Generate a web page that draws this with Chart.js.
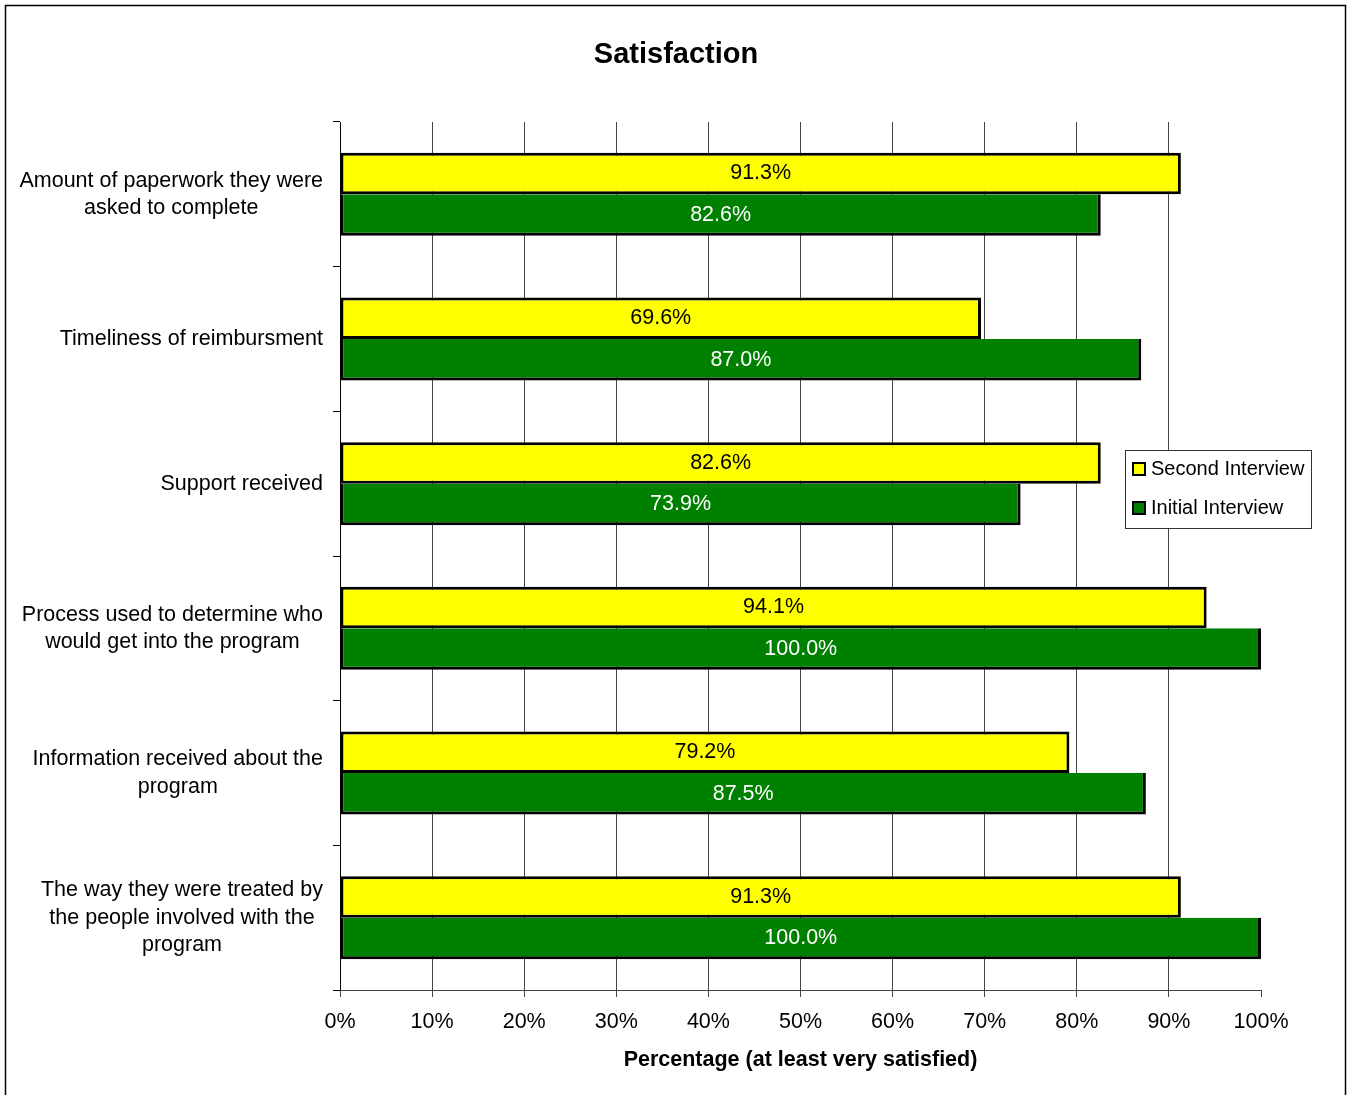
<!DOCTYPE html>
<html>
<head>
<meta charset="utf-8">
<script src="https://cdn.jsdelivr.net/npm/chart.js@4/dist/chart.umd.min.js"></script>
<style>
  html, body { margin: 0; padding: 0; background: #fff; }
  canvas { display: block; }
</style>
</head>
<body>
<canvas id="satisfactionChart" width="1351" height="1095"></canvas>
<script>
// Survey items, each split into the lines it is printed on
const categories = [
    ["Amount of paperwork they were", "asked to complete"],
    ["Timeliness of reimbursment"],
    ["Support received"],
    ["Process used to determine who", "would get into the program"],
    ["Information received about the", "program"],
    ["The way they were treated by", "the people involved with the", "program"]
];
const secondInterview = [91.3, 69.6, 82.6, 94.1, 79.2, 91.3];
const initialInterview = [82.6, 87.0, 73.9, 100.0, 87.5, 100.0];
const seriesNames = ["Second Interview", "Initial Interview"];
const xTicks = [0, 10, 20, 30, 40, 50, 60, 70, 80, 90, 100];

const FONT = "'Liberation Sans', Arial, sans-serif";

// outer frame, title, wrapped category names, value labels and the boxed legend
const decorations = {
    id: 'decorations',
    beforeDraw(chart) {
        const c = chart.ctx;
        c.save();
        c.fillStyle = '#fff';
        c.fillRect(0, 0, chart.width, chart.height);
        c.strokeStyle = '#000';
        c.lineWidth = 1.5;
        c.strokeRect(5.5, 5.5, 1340, 1100);

        c.fillStyle = '#000';
        c.font = 'bold 29px ' + FONT;
        c.textAlign = 'center';
        c.textBaseline = 'middle';
        c.fillText('Satisfaction', 676, 55);
        c.restore();
    },
    afterDatasetsDraw(chart) {
        const c = chart.ctx;
        c.save();
        c.font = '21.5px ' + FONT;
        c.textAlign = 'center';
        c.textBaseline = 'middle';
        chart.data.datasets.forEach((ds, i) => {
            const meta = chart.getDatasetMeta(i);
            c.fillStyle = i === 0 ? '#000' : '#fff';
            meta.data.forEach((bar, j) => {
                c.fillText(ds.data[j].toFixed(1) + '%', (bar.base + bar.x) / 2, bar.y);
            });
        });
        c.restore();
    },
    afterDraw(chart) {
        const c = chart.ctx;
        const y = chart.scales.y;
        c.save();

        // category names: block right-aligned to the axis, lines centred in the block
        c.font = '21.5px ' + FONT;
        c.fillStyle = '#000';
        c.textAlign = 'center';
        c.textBaseline = 'middle';
        const lineH = 27.5;
        categories.forEach((lines, i) => {
            const w = Math.max(...lines.map(l => c.measureText(l).width));
            const cx = 323 - w / 2;
            const cy = y.getPixelForValue(i);
            lines.forEach((l, k) => {
                c.fillText(l, cx, cy + (k - (lines.length - 1) / 2) * lineH);
            });
        });

        // legend
        const lx = 1125, ly = 450, lw = 186, lh = 78;
        c.fillStyle = '#fff';
        c.fillRect(lx, ly, lw, lh);
        c.strokeStyle = '#333';
        c.lineWidth = 1;
        c.strokeRect(lx + 0.5, ly + 0.5, lw, lh);
        c.font = '20px ' + FONT;
        c.textAlign = 'left';
        chart.data.datasets.forEach((ds, i) => {
            const cy = ly + 19 + i * 39;
            c.fillStyle = '#000';
            c.fillRect(lx + 7, cy - 7, 14, 14);
            c.fillStyle = ds.backgroundColor;
            c.fillRect(lx + 9, cy - 5, 10, 10);
            c.fillStyle = '#000';
            c.fillText(ds.label, lx + 26, cy);
        });
        c.restore();
    }
};

new Chart(document.getElementById('satisfactionChart'), {
    type: 'bar',
    data: {
        labels: categories.map(l => l.join(' ')),
        datasets: [
            {
                label: seriesNames[0],
                data: secondInterview,
                backgroundColor: '#FFFF00',
                borderColor: '#000',
                borderWidth: { top: 3, right: 3, bottom: 3, left: 3 },
                borderSkipped: false,
            },
            {
                label: seriesNames[1],
                data: initialInterview,
                backgroundColor: '#008000',
                borderColor: '#000',
                borderWidth: { top: 0, right: 3, bottom: 3, left: 3 },
                borderSkipped: false,
            }
        ]
    },
    options: {
        indexAxis: 'y',
        responsive: false,
        animation: false,
        devicePixelRatio: 1,
        categoryPercentage: 0.574,
        barPercentage: 1,
        layout: { padding: { left: 0, right: 90, top: 122, bottom: 0 } },
        plugins: {
            legend: { display: false },
            tooltip: { enabled: false },
            title: { display: false }
        },
        scales: {
            x: {
                min: 0,
                max: 100,
                afterBuildTicks(scale) {
                    scale.ticks = xTicks.map(v => ({ value: v }));
                },
                afterFit(scale) { scale.height = 105; },
                ticks: {
                    color: '#000',
                    padding: 12,
                    font: { family: FONT, size: 21.5 },
                    callback: v => v + '%'
                },
                grid: {
                    color: ctx => (ctx.tick && ctx.tick.value === 100) ? 'rgba(0,0,0,0)' : '#444',
                    tickColor: '#444',
                    tickLength: 7,
                    lineWidth: 1
                },
                border: { color: '#444', width: 1 },
                title: {
                    display: true,
                    text: 'Percentage (at least very satisfied)',
                    color: '#000',
                    font: { family: FONT, size: 21.5, weight: 'bold' },
                    padding: { top: 0, bottom: 22 }
                }
            },
            y: {
                afterFit(scale) { scale.width = 340; },
                ticks: { display: false },
                grid: {
                    offset: true,
                    drawOnChartArea: false,
                    drawTicks: true,
                    tickLength: 7,
                    tickColor: '#000',
                    color: '#000'
                },
                border: { color: '#000', width: 1 }
            }
        }
    },
    plugins: [decorations]
});
</script>
</body>
</html>
